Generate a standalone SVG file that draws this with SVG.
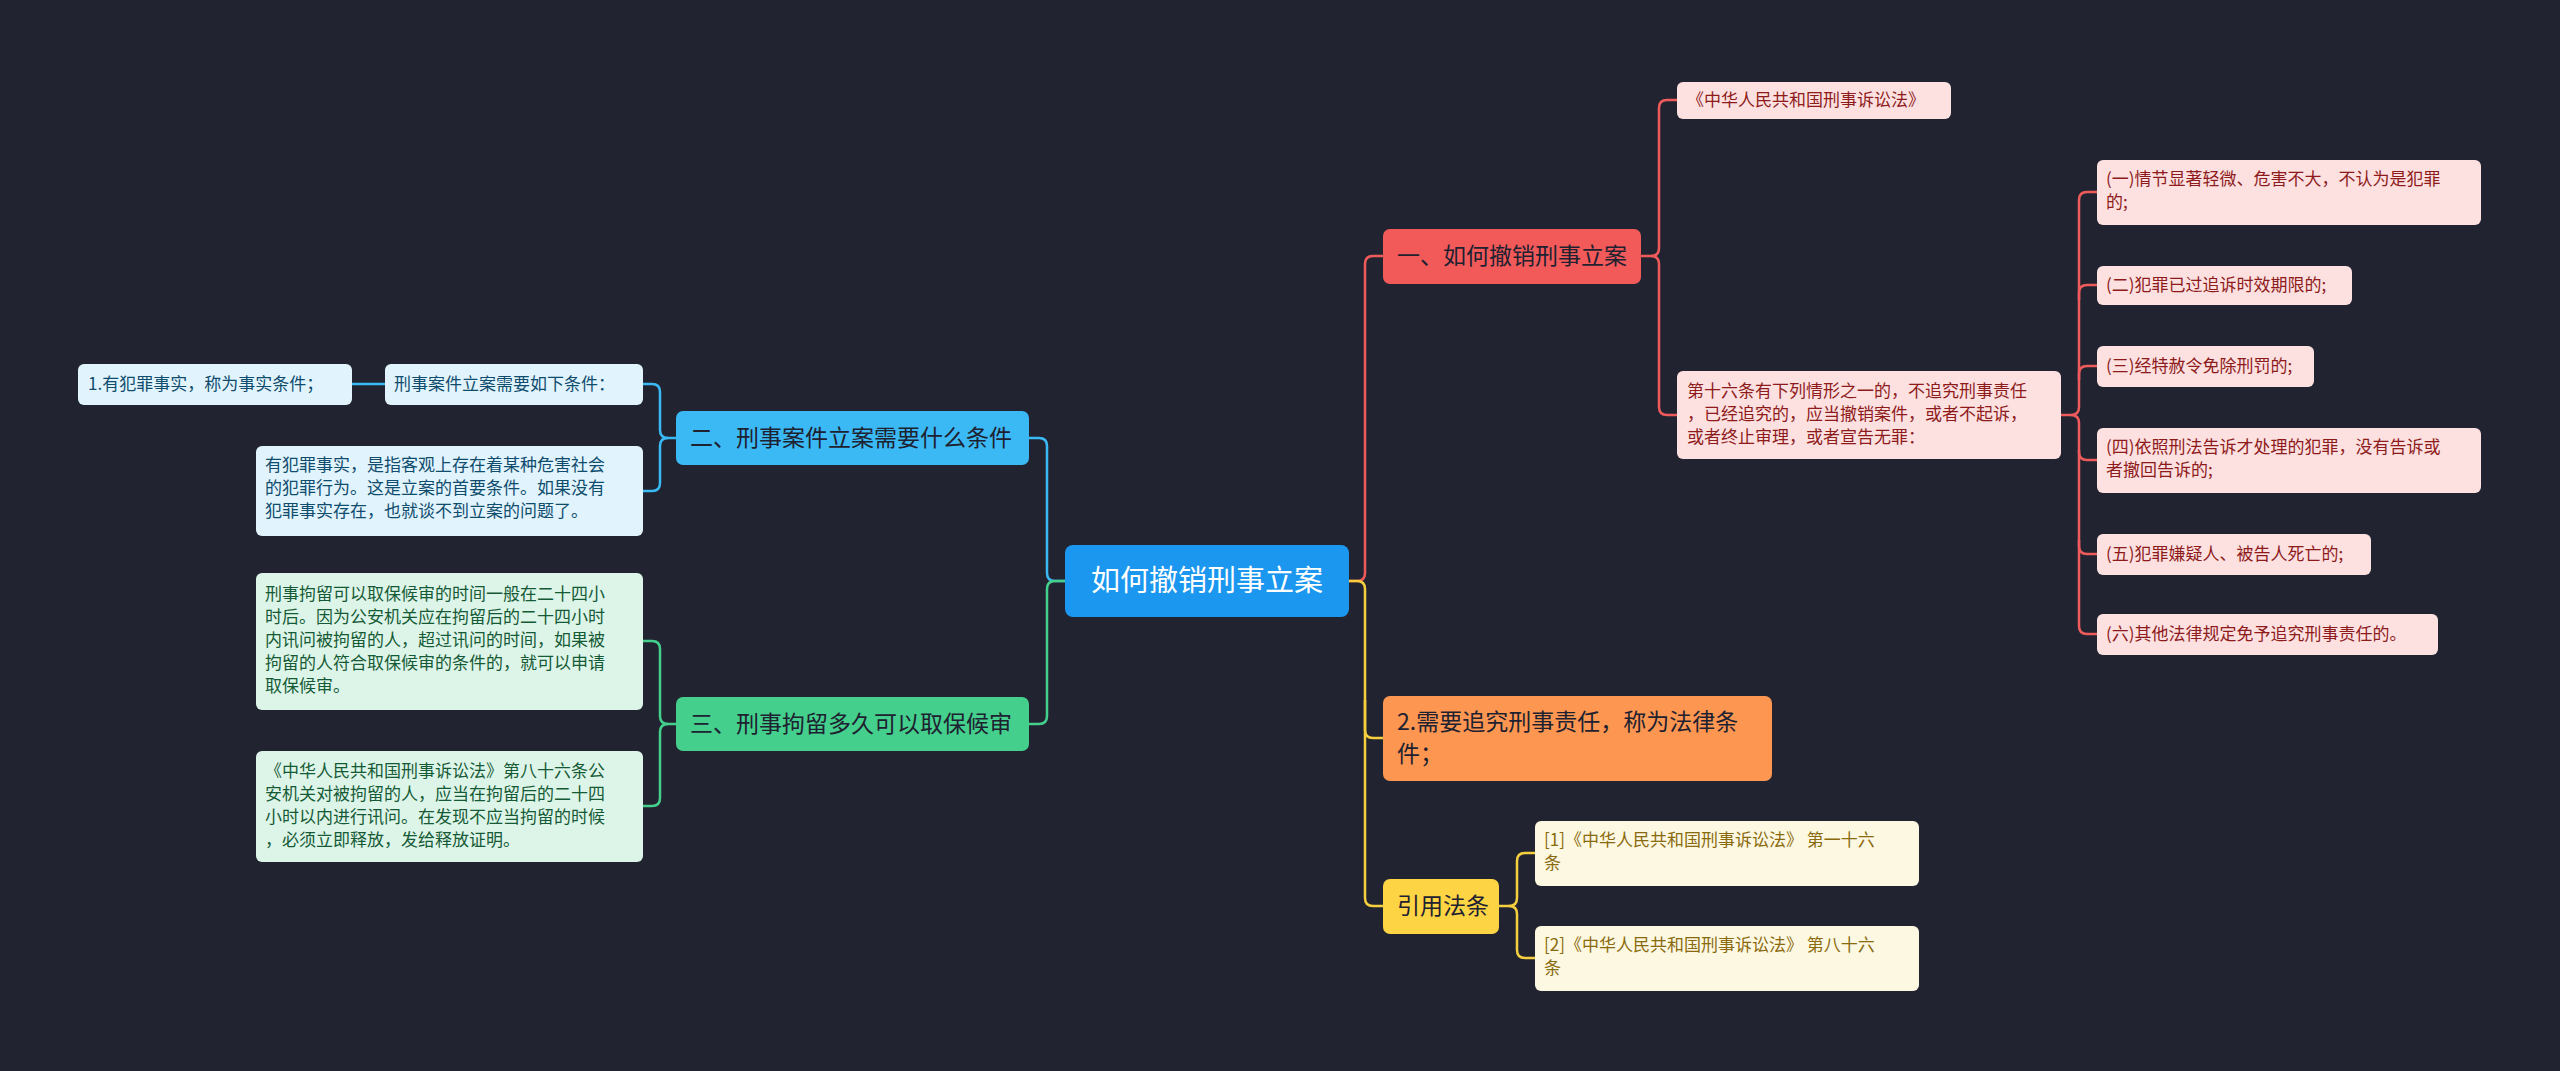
<svg xmlns="http://www.w3.org/2000/svg" width="2560" height="1071" viewBox="0 0 2560 1071">
<style>
text{font-family:"Noto Sans CJK SC","Liberation Sans",sans-serif;}
.c{fill:none;stroke-width:2.5;}
.leaf{font-size:17px;}
.red rect{fill:#fde1e1;} .red text{fill:#8e1b1b;}
.blu rect{fill:#e1f4fd;} .blu text{fill:#0f4c6e;}
.grn rect{fill:#ddf5e8;} .grn text{fill:#155a36;}
.yel rect{fill:#fdf8e1;} .yel text{fill:#8a6a0e;}
.main{font-size:23px;fill:#1e2130;}
</style>
<rect width="2560" height="1071" fill="#212430"/>
<g id="connectors">
<path class="c" stroke="#ef5b5b" d="M1349,581 H1357 Q1365,581 1365,573 V264 Q1365,256 1373,256 H1383"/>
<path class="c" stroke="#f6cf3f" d="M1349,581 H1357 Q1365,581 1365,589 V730 Q1365,738 1373,738 H1383"/>
<path class="c" stroke="#f6cf3f" d="M1365,700 V898 Q1365,906 1373,906 H1383"/>
<path class="c" stroke="#ef5b5b" d="M1641,256 H1651 Q1659,256 1659,248 V108 Q1659,100 1667,100 H1677"/>
<path class="c" stroke="#ef5b5b" d="M1651,256 Q1659,256 1659,264 V407 Q1659,415 1667,415 H1677"/>
<path class="c" stroke="#ef5b5b" d="M2061,415 H2071 Q2079,415 2079,407 V200 Q2079,192 2087,192 H2097"/>
<path class="c" stroke="#ef5b5b" d="M2079,300 V293 Q2079,285 2087,285 H2097"/>
<path class="c" stroke="#ef5b5b" d="M2079,380 V374 Q2079,366 2087,366 H2097"/>
<path class="c" stroke="#ef5b5b" d="M2071,415 Q2079,415 2079,423 V452 Q2079,460 2087,460 H2097"/>
<path class="c" stroke="#ef5b5b" d="M2079,450 V546 Q2079,554 2087,554 H2097"/>
<path class="c" stroke="#ef5b5b" d="M2079,540 V626 Q2079,634 2087,634 H2097"/>
<path class="c" stroke="#f6cf3f" d="M1499,906 H1509 Q1517,906 1517,898 V861 Q1517,853 1525,853 H1535"/>
<path class="c" stroke="#f6cf3f" d="M1509,906 Q1517,906 1517,914 V950 Q1517,958 1525,958 H1535"/>
<path class="c" stroke="#3bb9f5" d="M1065,581 H1055 Q1047,581 1047,573 V446 Q1047,438 1039,438 H1029"/>
<path class="c" stroke="#44cf8c" d="M1065,581 H1055 Q1047,581 1047,589 V716 Q1047,724 1039,724 H1029"/>
<path class="c" stroke="#3bb9f5" d="M676,438 H668 Q660,438 660,430 V392 Q660,384 652,384 H643"/>
<path class="c" stroke="#3bb9f5" d="M668,438 Q660,438 660,446 V483 Q660,491 652,491 H643"/>
<path class="c" stroke="#3bb9f5" d="M385,384 H352"/>
<path class="c" stroke="#44cf8c" d="M676,724 H668 Q660,724 660,716 V649 Q660,641 652,641 H643"/>
<path class="c" stroke="#44cf8c" d="M668,724 Q660,724 660,732 V798 Q660,806 652,806 H643"/>
</g>
<g id="root"><rect x="1065" y="545" width="284" height="72" rx="8" fill="#1b97f0"/><text x="1207" y="591" font-size="29" fill="#fff" text-anchor="middle">如何撤销刑事立案</text></g>
<g id="b1"><rect x="1383" y="229" width="258" height="55" rx="7" fill="#f25a5a"/><text class="main" x="1397" y="264">一、如何撤销刑事立案</text></g>
<g id="b2"><rect x="1383" y="696" width="389" height="85" rx="7" fill="#fd9650"/><text class="main" x="1397" y="730">2.需要追究刑事责任，称为法律条</text><text class="main" x="1397" y="762">件；</text></g>
<g id="b3"><rect x="1383" y="879" width="116" height="55" rx="7" fill="#fcd444"/><text class="main" x="1397" y="914">引用法条</text></g>
<g id="b4"><rect x="676" y="411" width="353" height="54" rx="7" fill="#3bb9f5"/><text class="main" x="690" y="446">二、刑事案件立案需要什么条件</text></g>
<g id="b5"><rect x="676" y="697" width="353" height="54" rx="7" fill="#44cf8c"/><text class="main" x="690" y="732">三、刑事拘留多久可以取保候审</text></g>
<g id="r1" class="red leaf"><rect x="1677" y="82" width="274" height="37" rx="6"/><text x="1687" y="106">《中华人民共和国刑事诉讼法》</text></g>
<g id="r2" class="red leaf"><rect x="1677" y="371" width="384" height="88" rx="6"/><text x="1687" y="397">第十六条有下列情形之一的，不追究刑事责任</text><text x="1687" y="420">，已经追究的，应当撤销案件，或者不起诉，</text><text x="1687" y="443">或者终止审理，或者宣告无罪：</text></g>
<g id="i1" class="red leaf"><rect x="2097" y="160" width="384" height="65" rx="6"/><text x="2106" y="185">(一)情节显著轻微、危害不大，不认为是犯罪</text><text x="2106" y="208">的;</text></g>
<g id="i2" class="red leaf"><rect x="2097" y="266" width="255" height="39" rx="6"/><text x="2106" y="291">(二)犯罪已过追诉时效期限的;</text></g>
<g id="i3" class="red leaf"><rect x="2097" y="346" width="217" height="41" rx="6"/><text x="2106" y="372">(三)经特赦令免除刑罚的;</text></g>
<g id="i4" class="red leaf"><rect x="2097" y="428" width="384" height="65" rx="6"/><text x="2106" y="453">(四)依照刑法告诉才处理的犯罪，没有告诉或</text><text x="2106" y="476">者撤回告诉的;</text></g>
<g id="i5" class="red leaf"><rect x="2097" y="534" width="274" height="41" rx="6"/><text x="2106" y="560">(五)犯罪嫌疑人、被告人死亡的;</text></g>
<g id="i6" class="red leaf"><rect x="2097" y="614" width="341" height="41" rx="6"/><text x="2106" y="640">(六)其他法律规定免予追究刑事责任的。</text></g>
<g id="y1" class="yel leaf"><rect x="1535" y="821" width="384" height="65" rx="6"/><text x="1544" y="846">[1]《中华人民共和国刑事诉讼法》 第一十六</text><text x="1544" y="869">条</text></g>
<g id="y2" class="yel leaf"><rect x="1535" y="926" width="384" height="65" rx="6"/><text x="1544" y="951">[2]《中华人民共和国刑事诉讼法》 第八十六</text><text x="1544" y="974">条</text></g>
<g id="l1" class="blu leaf"><rect x="385" y="364" width="258" height="41" rx="6"/><text x="394" y="390">刑事案件立案需要如下条件：</text></g>
<g id="l2" class="blu leaf"><rect x="78" y="364" width="274" height="41" rx="6"/><text x="88" y="390">1.有犯罪事实，称为事实条件；</text></g>
<g id="l3" class="blu leaf"><rect x="256" y="446" width="387" height="90" rx="6"/><text x="265" y="471">有犯罪事实，是指客观上存在着某种危害社会</text><text x="265" y="494">的犯罪行为。这是立案的首要条件。如果没有</text><text x="265" y="517">犯罪事实存在，也就谈不到立案的问题了。</text></g>
<g id="g1" class="grn leaf"><rect x="256" y="573" width="387" height="137" rx="6"/><text x="265" y="600">刑事拘留可以取保候审的时间一般在二十四小</text><text x="265" y="623">时后。因为公安机关应在拘留后的二十四小时</text><text x="265" y="646">内讯问被拘留的人，超过讯问的时间，如果被</text><text x="265" y="669">拘留的人符合取保候审的条件的，就可以申请</text><text x="265" y="692">取保候审。</text></g>
<g id="g2" class="grn leaf"><rect x="256" y="751" width="387" height="111" rx="6"/><text x="265" y="777">《中华人民共和国刑事诉讼法》第八十六条公</text><text x="265" y="800">安机关对被拘留的人，应当在拘留后的二十四</text><text x="265" y="823">小时以内进行讯问。在发现不应当拘留的时候</text><text x="265" y="846">，必须立即释放，发给释放证明。</text></g>
</svg>
